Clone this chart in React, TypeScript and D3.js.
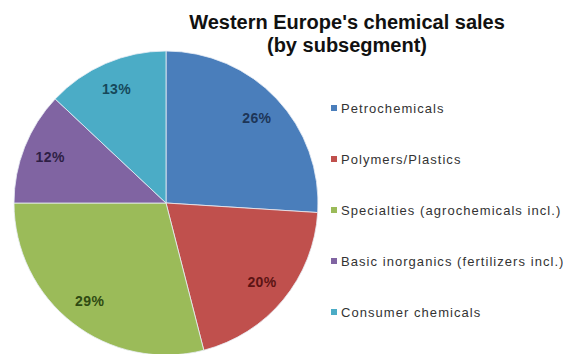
import React from "react";
import * as d3 from "d3";

const categories = [
  "Petrochemicals",
  "Polymers/Plastics",
  "Specialties (agrochemicals incl.)",
  "Basic inorganics (fertilizers incl.)",
  "Consumer chemicals",
];
const values = [26, 20, 29, 12, 13];
const colors = ["#4a7ebb", "#c0504d", "#9bbb59", "#8064a2", "#4bacc6"];
const labelColors = ["#1d3557", "#5c1414", "#2f4a12", "#2e1f45", "#16485a"];
const titleLines = ["Western Europe's chemical sales", "(by subsegment)"];

export default function App() {
  const W = 563, H = 354;
  const cx = 166, cy = 203, r = 152;
  const pie = d3.pie<number>().sort(null).value((d) => d);
  const arcs = pie(values);
  const arc = d3.arc<d3.PieArcDatum<number>>().innerRadius(0).outerRadius(r);
  const labelArc = d3.arc<d3.PieArcDatum<number>>().innerRadius(r * 0.82).outerRadius(r * 0.82);
  const legendY = d3.scalePoint<string>().domain(categories).range([108, 312]);
  return (
    <svg width={W} height={H} style={{ position: "absolute", left: 0, top: 0, background: "#fff" }}
      fontFamily="Arial, 'Liberation Sans', sans-serif">
      <rect width={W} height={H} fill="#fff" />
      {titleLines.map((t, i) => (
        <text key={i} x={347} y={29 + i * 23} textAnchor="middle" fontSize={20} fontWeight="bold" fill="#111">
          {t}
        </text>
      ))}
      <g transform={`translate(${cx},${cy})`}>
        {arcs.map((a, i) => (
          <path key={i} d={arc(a) || ""} fill={colors[i]} stroke="#e8eef5" strokeWidth={0.8} />
        ))}
        {arcs.map((a, i) => {
          const [x, y] = labelArc.centroid(a);
          return (
            <text key={i} x={x} y={y} textAnchor="middle" dominantBaseline="central" fontSize={14}
              fontWeight="bold" letterSpacing={0.4} fill={labelColors[i]}>
              {values[i]}%
            </text>
          );
        })}
      </g>
      {categories.map((c, i) => {
        const y = legendY(c)!;
        return (
          <g key={c}>
            <rect x={331} y={y - 3} width={6} height={6} fill={colors[i]} />
            <text x={341} y={y} dominantBaseline="central" fontSize={13} letterSpacing={1.05} fill="#333">
              {c}
            </text>
          </g>
        );
      })}
    </svg>
  );
}
